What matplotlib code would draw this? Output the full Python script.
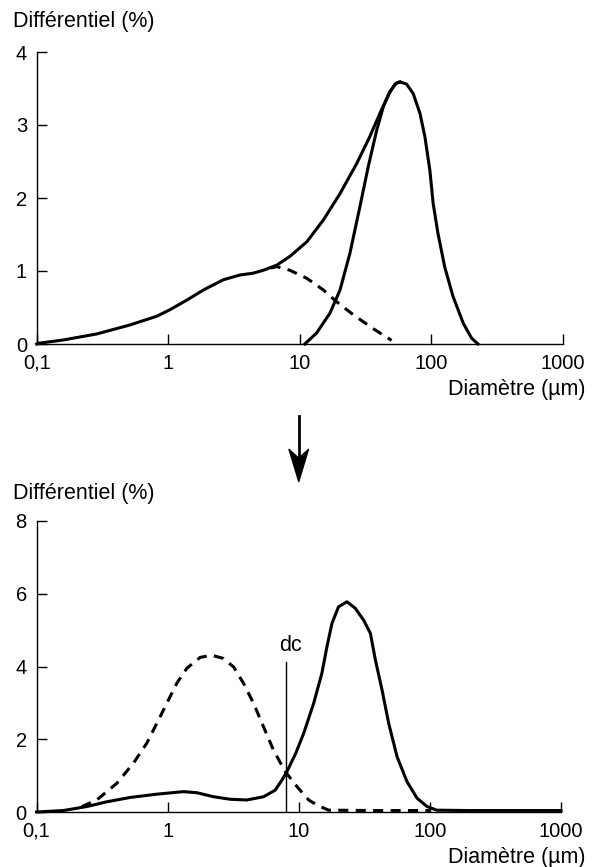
import matplotlib
matplotlib.use("Agg")
import matplotlib.pyplot as plt
from matplotlib.patches import Polygon
from matplotlib.lines import Line2D

plt.rcParams['font.family'] = ['Liberation Sans', 'DejaVu Sans']

# ---------------- data ----------------
x_ticks = [0.1, 1, 10, 100, 1000]
x_tick_labels = ['0,1', '1', '10', '100', '1000']
top_y_ticks = [0, 1, 2, 3, 4]
bottom_y_ticks = [0, 2, 4, 6, 8]
y_label = 'Différentiel (%)'
x_label = 'Diamètre (µm)'

# top panel: total distribution (solid)
top_total_x = [0.1, 0.103, 0.159, 0.285, 0.51, 0.817, 1.03, 1.38, 1.85, 2.62, 3.5, 4.42,
               5.27, 6.67, 8.4, 11.3, 15.1, 20.2, 27, 34, 40.6, 47, 52.8, 57.6, 64.8,
               72.7, 81.8, 89.2, 97.3, 103, 112, 126, 146, 175, 202, 226]
top_total_y = [0.0, 0.01, 0.055, 0.137, 0.26, 0.38, 0.47, 0.6, 0.74, 0.88, 0.945, 0.97,
               1.01, 1.08, 1.2, 1.4, 1.7, 2.06, 2.47, 2.84, 3.16, 3.41, 3.56, 3.59, 3.56,
               3.43, 3.16, 2.84, 2.38, 1.93, 1.52, 1.06, 0.65, 0.28, 0.08, 0.0]
# top panel: coarse population (solid)
top_coarse_x = [10.9, 13.4, 16.9, 20.2, 24, 28.6, 33.1, 38.4, 43.1, 48.4, 54.5, 57.6]
top_coarse_y = [0.0, 0.15, 0.42, 0.74, 1.24, 1.88, 2.43, 2.93, 3.25, 3.46, 3.58, 3.59]
# top panel: fine population (dashed)
top_fine_x = [6.0, 6.67, 8.4, 11.3, 15.1, 19, 25.5, 36.1, 49.8]
top_fine_y = [1.04, 1.06, 1.01, 0.9, 0.74, 0.58, 0.40, 0.21, 0.05]

# bottom panel: coarse fraction (solid)
bot_coarse_x = [0.1, 0.16, 0.242, 0.343, 0.518, 0.828, 1.32, 1.67, 2.24, 3.0, 4.02, 5.39,
                6.61, 7.45, 8.13, 9.5, 10.9, 13, 15.0, 16.4, 17.9, 20.1, 23.3, 27, 31.3,
                35.2, 38.4, 43.2, 48.5, 56.2, 67, 79.8, 95.2, 113, 200, 500, 1000]
bot_coarse_y = [0.0, 0.04, 0.15, 0.28, 0.40, 0.49, 0.56, 0.53, 0.42, 0.35, 0.33, 0.42,
                0.60, 0.88, 1.11, 1.62, 2.16, 2.99, 3.81, 4.54, 5.18, 5.64, 5.78, 5.60, 5.27,
                4.91, 4.18, 3.35, 2.44, 1.52, 0.83, 0.38, 0.15, 0.05, 0.04, 0.04, 0.04]
# bottom panel: fine fraction (dashed)
bot_fine_x = [0.221, 0.288, 0.41, 0.548, 0.693, 0.828, 0.986, 1.175, 1.4, 1.77, 2.17, 2.67,
              3.18, 3.79, 4.52, 5.39, 6.42, 7.89, 9.69, 11.9, 13.8, 16.9, 40, 100]
bot_fine_y = [0.146, 0.33, 0.79, 1.34, 1.89, 2.44, 2.99, 3.54, 3.95, 4.25, 4.31, 4.22,
              3.99, 3.54, 2.99, 2.34, 1.70, 1.11, 0.70, 0.33, 0.19, 0.05, 0.04, 0.04]

dc_value = 8.04
dc_top = 4.13
dc_label = 'dc'

# ---------------- figure ----------------
W, H = 600, 867
fig = plt.figure(figsize=(W / 100, H / 100), dpi=100)
ax1 = fig.add_axes([36.7 / W, 1 - 344 / H, (563 - 36.7) / W, (344 - 52) / H])
ax2 = fig.add_axes([36.5 / W, 1 - 812 / H, (561 - 36.5) / W, (812 - 521) / H])

FS_TICK = 14.5
FS_TITLE = 15.5
LW = 2.2
DASH = (0, (3.3, 2.4))


def style(ax, yticks):
    ax.set_xscale('log')
    ax.set_xlim(0.1, 1000)
    ax.set_ylim(yticks[0], yticks[-1])
    for s in ('top', 'right'):
        ax.spines[s].set_visible(False)
    for s in ('left', 'bottom'):
        ax.spines[s].set_linewidth(1.0)
    ax.set_xticks(x_ticks)
    ax.set_xticklabels(x_tick_labels)
    ax.minorticks_off()
    ax.set_yticks(yticks)
    ax.set_yticklabels([str(v) for v in yticks])
    ax.tick_params(axis='both', direction='in', length=7, width=1.0, labelsize=FS_TICK)
    ax.tick_params(axis='x', pad=7)
    ax.tick_params(axis='y', pad=7)
    ax.patch.set_visible(False)


style(ax1, top_y_ticks)
style(ax2, bottom_y_ticks)

ax1.plot(top_total_x, top_total_y, color='black', lw=LW, solid_joinstyle='round', clip_on=False)
ax1.plot(top_coarse_x, top_coarse_y, color='black', lw=LW, solid_joinstyle='round', clip_on=False)
ax1.plot(top_fine_x, top_fine_y, color='black', lw=LW, linestyle=DASH, clip_on=False)

ax2.plot(bot_coarse_x, bot_coarse_y, color='black', lw=LW, solid_joinstyle='round', clip_on=False)
ax2.plot(bot_fine_x, bot_fine_y, color='black', lw=LW, linestyle=DASH, clip_on=False)
ax2.plot([dc_value, dc_value], [0, dc_top], color='black', lw=1.0)
ax2.text(dc_value * 1.07, dc_top + 0.15, dc_label, ha='center', va='bottom', fontsize=FS_TITLE)

# axis titles
fig.text(13 / W, 1 - 22 / H, y_label, ha='left', va='center', fontsize=FS_TITLE)
fig.text(13 / W, 1 - 493 / H, y_label, ha='left', va='center', fontsize=FS_TITLE)
fig.text(585 / W, 1 - 390 / H, x_label, ha='right', va='center', fontsize=FS_TITLE)
fig.text(585 / W, 1 - 858 / H, x_label, ha='right', va='center', fontsize=FS_TITLE)

# arrow between panels, aligned with x = 10 of the axes
fig.canvas.draw()
xa = fig.transFigure.inverted().transform(ax2.transData.transform((10, 0)))[0]
y_top, y_back, y_notch, y_tip = 416, 449, 458, 482
shaft = Line2D([xa, xa], [1 - y_top / H, 1 - y_notch / H], transform=fig.transFigure,
               color='black', lw=2.0)
fig.add_artist(shaft)
head = Polygon([[xa, 1 - y_tip / H], [xa - 10 / W, 1 - y_back / H],
                [xa, 1 - y_notch / H], [xa + 10 / W, 1 - y_back / H]],
               closed=True, transform=fig.transFigure, facecolor='black',
               edgecolor='black', lw=0.8)
fig.add_artist(head)

fig.savefig('out.png', dpi=100)
